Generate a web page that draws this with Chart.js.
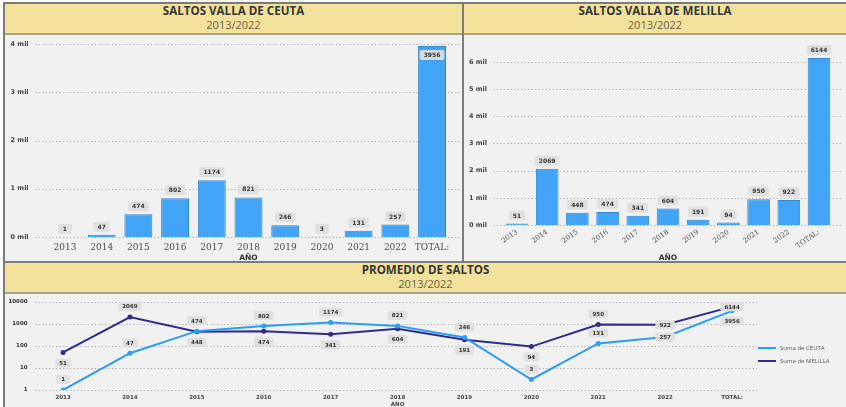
<!DOCTYPE html>
<html lang="es">
<head>
<meta charset="UTF-8">
<title>Saltos valla Ceuta y Melilla</title>
<script src="https://cdn.jsdelivr.net/npm/chart.js"></script>
<style>
    body { margin: 0; width: 846px; height: 407px; overflow: hidden; background: #fff; position: relative; font-family: 'Open Sans', sans-serif; }
    .frame { position: absolute; left: 3px; top: 2px; width: 850px; height: 420px; border: 2px solid #7c7c7c; background: #f1f1f1; box-sizing: border-box; }
    .line { position: absolute; background: #7c7c7c; }
    .head { position: absolute; background: #f2e29b; border-bottom: 2px solid #a8a28a; text-align: center; }
    .head .t { font-weight: 700; font-size: 11.6px; color: #363636; line-height: 14px; }
    .head .s { font-size: 11px; color: #6a6048; line-height: 14px; }
    canvas { position: absolute; }
    .legend { position: absolute; left: 758px; top: 341px; font-size: 6px; color: #555; }
    .legend div { height: 13px; display: flex; align-items: center; }
    .legend span.sw { display: inline-block; width: 18px; height: 2px; margin-right: 4px; }
</style>
</head>
<body>
<div class="frame"></div>
<div class="line" style="left:462px;top:2px;width:2px;height:261px"></div>
<div class="line" style="left:3px;top:261px;width:846px;height:2px"></div>

<div class="head" style="left:5px;top:4px;width:457px;height:29px">
    <div class="t">SALTOS VALLA DE CEUTA</div><div class="s">2013/2022</div>
</div>
<div class="head" style="left:464px;top:4px;width:382px;height:29px">
    <div class="t">SALTOS VALLA DE MELILLA</div><div class="s">2013/2022</div>
</div>
<div class="head" style="left:5px;top:263px;width:841px;height:29px">
    <div class="t">PROMEDIO DE SALTOS</div><div class="s">2013/2022</div>
</div>

<canvas id="ceutaChart" width="457" height="226" style="left:5px;top:35px"></canvas>
<canvas id="melillaChart" width="382" height="226" style="left:464px;top:35px"></canvas>
<canvas id="lineChart" width="841" height="113" style="left:5px;top:294px"></canvas>

<div class="legend">
    <div><span class="sw" style="background:#2a9df4"></span>Suma de CEUTA</div>
    <div><span class="sw" style="background:#2e2c8c"></span>Suma de MELILLA</div>
</div>

<script>
    // data
    const years = ['2013', '2014', '2015', '2016', '2017', '2018', '2019', '2020', '2021', '2022', 'TOTAL:'];
    const ceuta = [1, 47, 474, 802, 1174, 821, 246, 3, 131, 257, 3956];
    const melilla = [51, 2069, 448, 474, 341, 604, 191, 94, 950, 922, 6144];
    const logTicks = [1, 10, 100, 1000, 10000];

    // where each value label sits
    const ceutaBarPos = ['above', 'above', 'above', 'above', 'above', 'above', 'above', 'above', 'above', 'above', 'inside'];
    const melillaBarPos = ['above', 'above', 'above', 'above', 'above', 'above', 'above', 'above', 'above', 'above', 'above'];
    const ceutaLinePos = ['above', 'above', 'above', 'above', 'above', 'above', 'above', 'above', 'above', 'center', 'below'];
    const melillaLinePos = ['below', 'above', 'below', 'below', 'below', 'below', 'below', 'below', 'above', 'center', 'center'];

    const BAR = '#42a4f6', BAR_EDGE = '#2f86d2';
    const CEUTA = '#2a9df4', MELILLA = '#2e2c8c';

    // dotted horizontal grid that may run past the chart area
    const dottedGrid = {
        id: 'dottedGrid',
        beforeDatasetsDraw(chart, args, opts) {
            const y = chart.scales.y, a = chart.chartArea, ctx = chart.ctx;
            ctx.save();
            ctx.strokeStyle = '#b4b4b4';
            ctx.lineWidth = 1;
            ctx.setLineDash([1.5, 2]);
            y.ticks.forEach((t, i) => {
                const py = Math.round(y.getPixelForTick(i)) + 0.5;
                ctx.beginPath();
                ctx.moveTo(a.left - opts.left, py);
                ctx.lineTo(a.right + opts.right, py);
                ctx.stroke();
            });
            ctx.restore();
        }
    };

    // grey boxed value labels
    const valueLabels = {
        id: 'valueLabels',
        afterDatasetsDraw(chart, args, opts) {
            const ctx = chart.ctx;
            ctx.save();
            ctx.font = opts.font;
            ctx.textAlign = 'center';
            ctx.textBaseline = 'middle';
            chart.data.datasets.forEach((ds, i) => {
                const meta = chart.getDatasetMeta(i);
                meta.data.forEach((el, j) => {
                    const text = String(ds.data[j]);
                    const w = Math.max(ctx.measureText(text).width + 8, 14), h = opts.h;
                    const p = ds.labelPos[j];
                    let y = el.y;
                    if (p === 'above') y = el.y - opts.gap - h / 2;
                    else if (p === 'below') y = el.y + opts.gap + h / 2;
                    else if (p === 'inside') y = el.y + 4 + h / 2;
                    ctx.fillStyle = 'rgba(222,222,222,0.95)';
                    ctx.beginPath();
                    ctx.roundRect(el.x - w / 2, y - h / 2, w, h, 2);
                    ctx.fill();
                    ctx.fillStyle = '#333';
                    ctx.fillText(text, el.x, y + 0.5);
                });
            });
            ctx.restore();
        }
    };

    function barChart(id, values, pos, cfg) {
        return new Chart(document.getElementById(id), {
            type: 'bar',
            data: {
                labels: years,
                datasets: [{
                    data: values,
                    labelPos: pos,
                    backgroundColor: BAR,
                    borderColor: BAR_EDGE,
                    borderWidth: 1,
                    categoryPercentage: 1,
                    barPercentage: cfg.barPct
                }]
            },
            plugins: [dottedGrid, valueLabels],
            options: {
                responsive: false,
                animation: false,
                layout: { padding: { top: cfg.padTop, right: cfg.padRight, left: 0, bottom: 0 } },
                plugins: {
                    legend: { display: false },
                    tooltip: { enabled: false },
                    dottedGrid: { left: cfg.gridLeft, right: cfg.gridRight },
                    valueLabels: { font: 'bold 6px "DejaVu Sans"', gap: 3, h: 10 }
                },
                scales: {
                    x: {
                        grid: { display: false, drawTicks: false },
                        border: { display: false },
                        ticks: {
                            color: '#4a4a4a',
                            padding: cfg.xPad,
                            font: { family: cfg.xFamily, size: cfg.xSize },
                            minRotation: cfg.rot, maxRotation: cfg.rot, autoSkip: false
                        },
                        title: {
                            display: true, text: 'AÑO', color: '#333',
                            font: { family: 'DejaVu Sans', size: 7.5, weight: 'bold' },
                            padding: { top: 0, bottom: -2 }
                        },
                        afterFit: s => { s.height = cfg.xHeight; }
                    },
                    y: {
                        beginAtZero: true,
                        max: cfg.max,
                        // invisible tick marks push the labels left without adding top padding
                        grid: { display: false, drawTicks: true, tickLength: cfg.yGap },
                        border: { display: false },
                        ticks: {
                            stepSize: 1000,
                            color: '#444',
                            padding: 2,
                            font: { family: 'DejaVu Sans', size: 6.5, weight: 'bold' },
                            callback: v => (v / 1000) + ' mil'
                        },
                        afterBuildTicks: s => {
                            const t = [];
                            for (let v = 0; v <= s.max; v += 1000) t.push({ value: v });
                            s.ticks = t;
                        },
                        afterFit: s => { s.width = cfg.yWidth; }
                    }
                }
            }
        });
    }

    barChart('ceutaChart', ceuta, ceutaBarPos, {
        barPct: 0.76, padTop: 9, padRight: 11.6, yWidth: 41.6, xHeight: 24,
        yGap: 16, xPad: 5, xSize: 9, xFamily: 'DejaVu Serif', rot: 0,
        gridLeft: 11.6, gridRight: 9.6, max: Math.ceil(Math.max(...ceuta) / 1000) * 1000
    });

    barChart('melillaChart', melilla, melillaBarPos, {
        barPct: 0.75, padTop: 23, padRight: 11.9, yWidth: 37.9, xHeight: 36,
        yGap: 13, xPad: 3, xSize: 7, xFamily: 'DejaVu Serif', rot: 35,
        gridLeft: 8.9, gridRight: 7, max: Math.max(...melilla)
    });

    new Chart(document.getElementById('lineChart'), {
        type: 'line',
        data: {
            labels: years,
            datasets: [
                {
                    label: 'Suma de CEUTA', data: ceuta, labelPos: ceutaLinePos,
                    borderColor: CEUTA, backgroundColor: CEUTA, borderWidth: 2,
                    pointRadius: 2.5, pointBorderWidth: 0, tension: 0
                },
                {
                    label: 'Suma de MELILLA', data: melilla, labelPos: melillaLinePos,
                    borderColor: MELILLA, backgroundColor: MELILLA, borderWidth: 2,
                    pointRadius: 2.5, pointBorderWidth: 0, tension: 0
                }
            ]
        },
        plugins: [dottedGrid, valueLabels],
        options: {
            responsive: false,
            animation: false,
            layout: { padding: { top: 8, right: 80.5, left: 0, bottom: 0 } },
            plugins: {
                legend: { display: false },
                tooltip: { enabled: false },
                dottedGrid: { left: -5.4, right: -8.4 },
                valueLabels: { font: 'bold 5.5px "DejaVu Sans"', gap: 6, h: 9 }
            },
            scales: {
                x: {
                    offset: true,
                    grid: { display: false, drawTicks: false },
                    border: { display: false },
                    ticks: {
                        color: '#444', padding: 4, maxRotation: 0, autoSkip: false,
                        font: { family: 'DejaVu Sans', size: 5.5, weight: 'bold' }
                    },
                    title: {
                        display: true, text: 'AÑO', color: '#444',
                        font: { family: 'DejaVu Sans', size: 5.5, weight: 'bold' },
                        padding: { top: 0, bottom: -1 }
                    },
                    afterFit: s => { s.height = 17; }
                },
                y: {
                    type: 'logarithmic',
                    min: logTicks[0],
                    max: logTicks[logTicks.length - 1],
                    grid: { display: false, drawTicks: false },
                    border: { display: false },
                    ticks: {
                        color: '#333', padding: 2,
                        font: { family: 'DejaVu Sans', size: 5.5, weight: 'bold' },
                        callback: v => String(v)
                    },
                    afterBuildTicks: s => { s.ticks = logTicks.map(v => ({ value: v })); },
                    afterFit: s => { s.width = 24.6; }
                }
            }
        }
    });
</script>
</body>
</html>
